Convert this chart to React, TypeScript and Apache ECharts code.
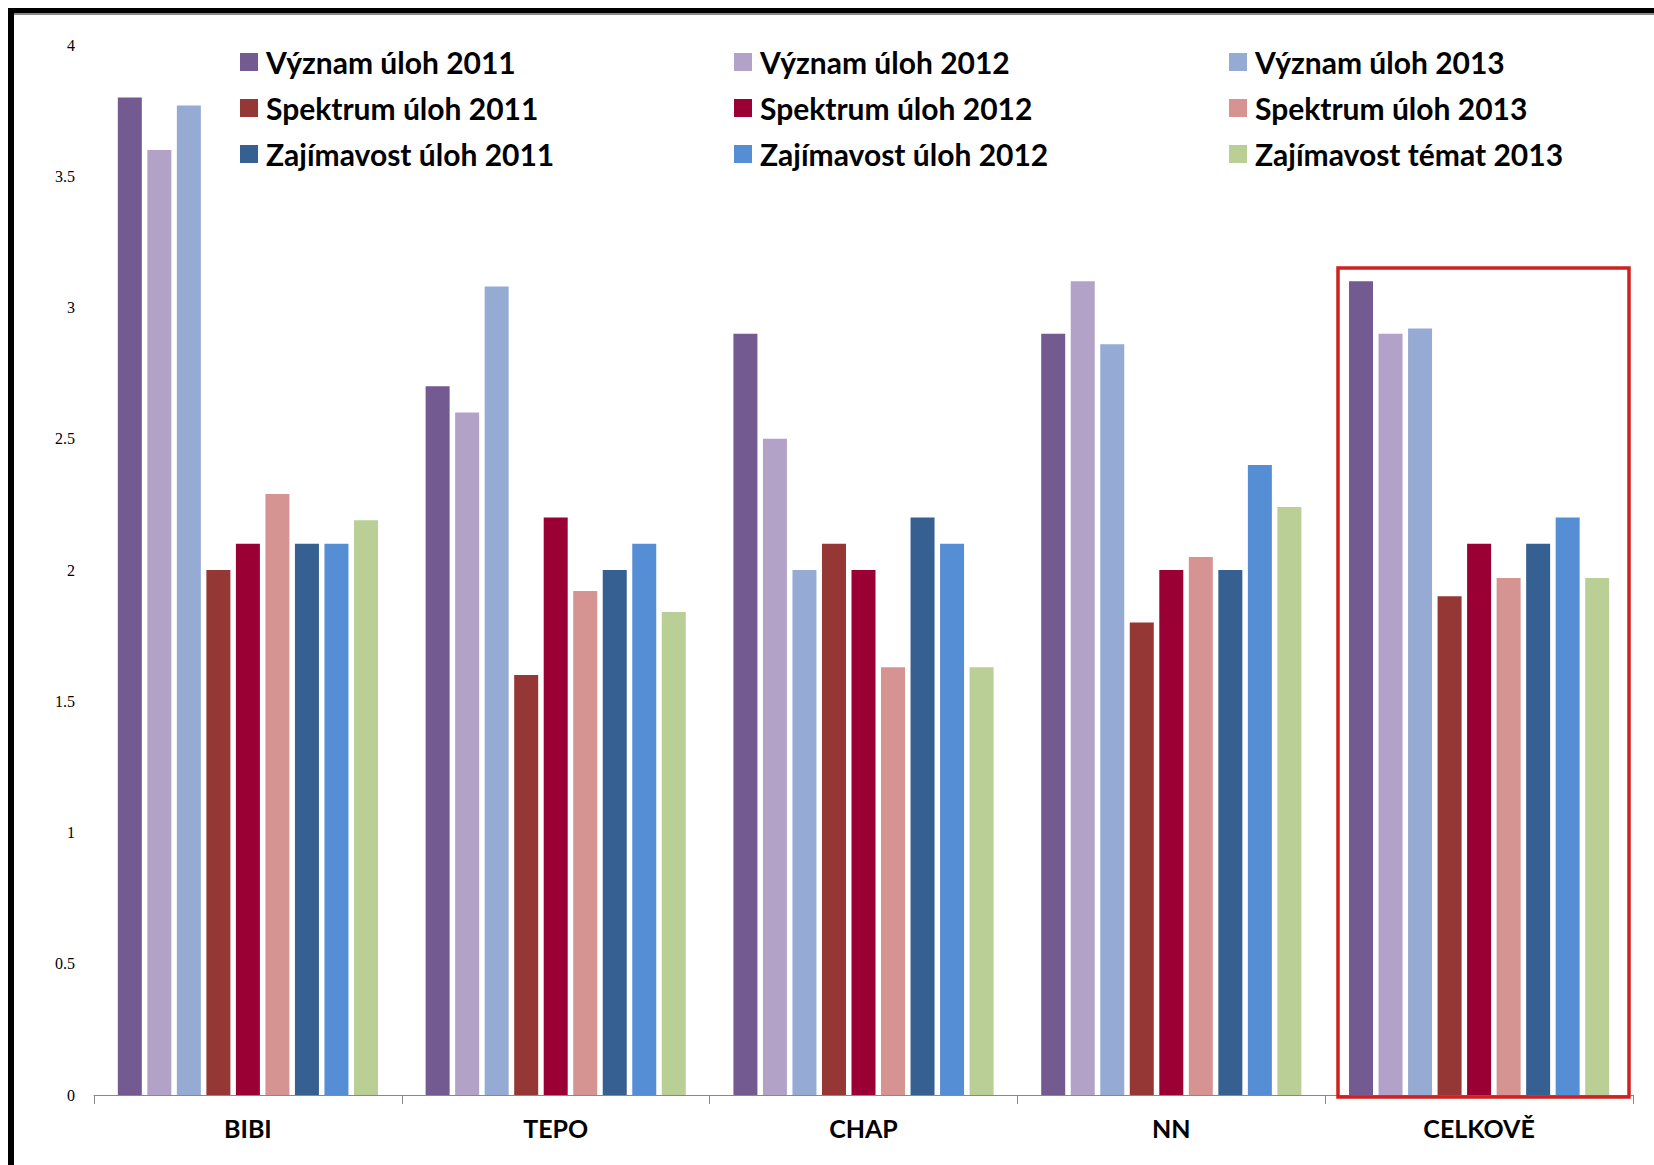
import React, { useEffect, useRef } from "react";
import * as echarts from "echarts";

const categories = ["BIBI", "TEPO", "CHAP", "NN", "CELKOVĚ"];
const seriesNames = [
  "Význam úloh 2011",
  "Význam úloh 2012",
  "Význam úloh 2013",
  "Spektrum úloh 2011",
  "Spektrum úloh 2012",
  "Spektrum úloh 2013",
  "Zajímavost úloh 2011",
  "Zajímavost úloh 2012",
  "Zajímavost témat 2013",
];
const vyznam2011 = [3.8, 2.7, 2.9, 2.9, 3.1];
const vyznam2012 = [3.6, 2.6, 2.5, 3.1, 2.9];
const vyznam2013 = [3.77, 3.08, 2.0, 2.86, 2.92];
const spektrum2011 = [2.0, 1.6, 2.1, 1.8, 1.9];
const spektrum2012 = [2.1, 2.2, 2.0, 2.0, 2.1];
const spektrum2013 = [2.29, 1.92, 1.63, 2.05, 1.97];
const zajimavost2011 = [2.1, 2.0, 2.2, 2.0, 2.1];
const zajimavost2012 = [2.1, 2.1, 2.1, 2.4, 2.2];
const zajimavostTemat2013 = [2.19, 1.84, 1.63, 2.24, 1.97];
const seriesValues = [
  vyznam2011,
  vyznam2012,
  vyznam2013,
  spektrum2011,
  spektrum2012,
  spektrum2013,
  zajimavost2011,
  zajimavost2012,
  zajimavostTemat2013,
];
const colors = [
  "#735A90",
  "#B3A2C7",
  "#95ABD3",
  "#953735",
  "#9B0034",
  "#D59391",
  "#376092",
  "#558ED5",
  "#BACF95",
];
const legendColumns = [
  [0, 3, 6],
  [1, 4, 7],
  [2, 5, 8],
];
const legendLefts = [240, 734, 1229];

export default function App() {
  const ref = useRef<HTMLDivElement>(null);
  useEffect(() => {
    document.body.style.margin = "0";
    if (!ref.current) return;
    const chart = echarts.init(ref.current, null, { renderer: "svg" });
    const legendFont = {
      fontFamily: "Lato",
      fontWeight: "bold" as const,
      fontSize: 30,
      color: "#000",
      lineHeight: 30,
      padding: [0, 0, 0, 3],
    };
    chart.setOption({
      animation: false,
      backgroundColor: "#fff",
      color: colors,
      grid: { left: 94, right: 21, top: 45, bottom: 70, containLabel: false },
      legend: legendColumns.map((col, i) => ({
        orient: "vertical",
        left: legendLefts[i],
        top: 47,
        padding: 0,
        itemWidth: 18,
        itemHeight: 18,
        itemGap: 16,
        icon: "rect",
        data: col.map((k) => seriesNames[k]),
        textStyle: legendFont,
      })),
      xAxis: {
        type: "category",
        data: categories,
        axisLine: { lineStyle: { color: "#898989", width: 1 } },
        axisTick: { show: true, length: 9, lineStyle: { color: "#898989" } },
        axisLabel: {
          margin: 20,
          fontFamily: "Lato",
          fontWeight: "bold",
          fontSize: 25,
          color: "#000",
        },
      },
      yAxis: {
        type: "value",
        min: 0,
        max: 4,
        interval: 0.5,
        splitLine: { show: false },
        axisLine: { show: false },
        axisTick: { show: false },
        axisLabel: {
          margin: 19,
          fontFamily: "Liberation Serif",
          fontSize: 16,
          color: "#000",
        },
      },
      series: seriesNames.map((name, i) => ({
        name,
        type: "bar",
        data: seriesValues[i],
        barWidth: 24,
        barGap: "23%",
        itemStyle: { color: colors[i] },
      })),
      graphic: [
        { type: "rect", shape: { x: 8, y: 8, width: 1646, height: 5 }, style: { fill: "#000" }, silent: true },
        { type: "rect", shape: { x: 14, y: 13, width: 1640, height: 2 }, style: { fill: "#8a8a8a" }, silent: true },
        { type: "rect", shape: { x: 8, y: 8, width: 6, height: 1157 }, style: { fill: "#000" }, silent: true },
        {
          type: "rect",
          shape: { x: 1338, y: 268, width: 291, height: 829 },
          style: { fill: "none", stroke: "#D0201F", lineWidth: 3.5 },
          silent: true,
          z: 100,
        },
      ],
    });
    return () => chart.dispose();
  }, []);
  return <div ref={ref} style={{ width: 1654, height: 1165 }} />;
}
